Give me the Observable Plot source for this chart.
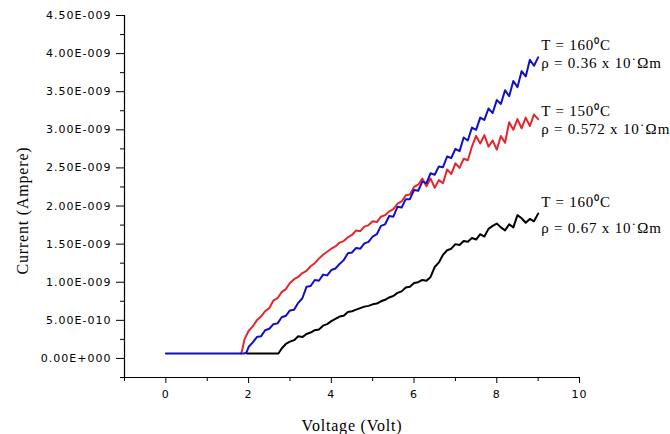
<!DOCTYPE html>
<html><head><meta charset="utf-8">
<script src="https://cdn.jsdelivr.net/npm/d3@7"></script>
<script src="https://cdn.jsdelivr.net/npm/@observablehq/plot@0.6"></script>
<style>
body{margin:0;background:#fff}
#chart svg g[aria-label="y-axis tick label"] text{letter-spacing:1px}
#chart svg g[aria-label="x-axis tick label"] text{letter-spacing:1px}
</style>
</head><body><div id="chart"></div>
<script>
// Voltage (Volt) and current (in units of 1E-009 Ampere)
const blueV = [0,1.9,1.95,2.0,2.1,2.2,2.3,2.4,2.5,2.6,2.7,2.8,2.9,3.0,3.1,3.2,3.3,3.4,3.5,3.6,3.7,3.8,3.9,4.0,4.1,4.2,4.3,4.4,4.5,4.6,4.7,4.8,4.9,5.0,5.1,5.2,5.3,5.4,5.5,5.6,5.7,5.8,5.9,6.0,6.1,6.2,6.3,6.4,6.5,6.6,6.7,6.8,6.9,7.0,7.1,7.2,7.3,7.4,7.5,7.6,7.7,7.8,7.9,8.0,8.1,8.2,8.3,8.4,8.5,8.6,8.7,8.8,8.9,9.0];
const blueI = [0.065,0.065,0.08,0.15,0.21,0.28,0.29,0.37,0.39,0.45,0.46,0.54,0.56,0.63,0.64,0.73,0.79,0.94,0.95,1.03,1.02,1.10,1.09,1.16,1.18,1.24,1.29,1.38,1.39,1.45,1.44,1.51,1.53,1.60,1.63,1.74,1.76,1.87,1.86,1.99,1.98,2.09,2.09,2.21,2.20,2.32,2.30,2.43,2.41,2.52,2.51,2.65,2.63,2.75,2.72,2.90,2.86,3.03,3.00,3.16,3.13,3.28,3.22,3.39,3.34,3.52,3.44,3.64,3.56,3.77,3.70,3.92,3.84,3.95];
const redV = [1.82,1.85,1.9,2.0,2.1,2.2,2.3,2.4,2.5,2.6,2.7,2.8,2.9,3.0,3.1,3.2,3.3,3.4,3.5,3.6,3.7,3.8,3.9,4.0,4.1,4.2,4.3,4.4,4.5,4.6,4.7,4.8,4.9,5.0,5.1,5.2,5.3,5.4,5.5,5.6,5.7,5.8,5.9,6.0,6.1,6.2,6.3,6.4,6.5,6.6,6.7,6.8,6.9,7.0,7.1,7.2,7.3,7.4,7.5,7.6,7.7,7.8,7.9,8.0,8.1,8.2,8.3,8.4,8.5,8.6,8.7,8.8,8.9,9.0];
const redI = [0.065,0.12,0.25,0.36,0.42,0.50,0.55,0.62,0.66,0.76,0.79,0.87,0.91,0.99,1.04,1.07,1.12,1.15,1.21,1.25,1.31,1.36,1.40,1.44,1.47,1.52,1.54,1.59,1.62,1.68,1.67,1.73,1.75,1.80,1.79,1.86,1.88,1.93,1.96,2.03,2.06,2.14,2.15,2.25,2.28,2.36,2.26,2.36,2.24,2.34,2.30,2.48,2.42,2.56,2.50,2.62,2.60,2.78,2.92,2.82,2.93,2.78,2.86,2.74,2.92,2.83,3.10,3.00,3.14,3.02,3.16,3.05,3.20,3.14];
const blackV = [1.96,2.72,2.8,2.9,3.0,3.1,3.2,3.3,3.4,3.5,3.6,3.7,3.8,3.9,4.0,4.1,4.2,4.3,4.4,4.5,4.6,4.7,4.8,4.9,5.0,5.1,5.2,5.3,5.4,5.5,5.6,5.7,5.8,5.9,6.0,6.1,6.2,6.3,6.4,6.5,6.6,6.7,6.8,6.9,7.0,7.1,7.2,7.3,7.4,7.5,7.6,7.7,7.8,7.9,8.0,8.1,8.2,8.3,8.4,8.5,8.6,8.7,8.8,8.9,9.0];
const blackI = [0.065,0.065,0.13,0.19,0.22,0.24,0.29,0.28,0.32,0.34,0.37,0.38,0.43,0.45,0.49,0.52,0.55,0.56,0.61,0.62,0.64,0.66,0.68,0.69,0.71,0.72,0.75,0.77,0.80,0.82,0.86,0.88,0.93,0.94,0.99,1.00,1.03,1.02,1.07,1.20,1.26,1.36,1.42,1.44,1.50,1.49,1.54,1.53,1.58,1.56,1.63,1.60,1.70,1.74,1.77,1.72,1.68,1.76,1.72,1.88,1.84,1.78,1.83,1.80,1.90];

const labelT = ["T = 160\u2070C", "T = 150\u2070C", "T = 160\u2070C"];
const labelRho = ["\u03C1 = 0.36 x 10\u02D9\u2126m", "\u03C1 = 0.572 x 10\u02D9\u2126m", "\u03C1 = 0.67 x 10\u02D9\u2126m"];
const xMajorTicks = [0,2,4,6,8,10];
const xMinorTicks = [-1,1,3,5,7,9];
const yMajorTicks = [0,0.5,1,1.5,2,2.5,3,3.5,4,4.5];
const yMinorTicks = [-0.25,0.25,0.75,1.25,1.75,2.25,2.75,3.25,3.75,4.25];

function sci(v) {
  const a = v * 1e-9;
  if (Math.abs(a) < 1e-20) return "0.00E+000";
  const e = Math.floor(Math.log10(Math.abs(a)) + 1e-9);
  const m = a / Math.pow(10, e);
  return m.toFixed(2) + "E" + (e < 0 ? "-" : "+") + String(Math.abs(e)).padStart(3, "0");
}

const mk = (V, I) => V.map((v, i) => ({V: v, I: I[i]}));
const series = [
  {data: mk(blackV, blackI), color: "#000000", dyT: -11, dyR: 15},
  {data: mk(redV, redI), color: "#e8262a", dyT: -8, dyR: 10},
  {data: mk(blueV, blueI), color: "#1010c8", dyT: -12, dyR: 6}
];
const labelOrder = [2, 1, 0]; // label index for black, red, blue
const serif = "Liberation Serif, Times New Roman, serif";

const marks = [
  Plot.ruleX([-1], {stroke: "#000", strokeWidth: 1.2}),
  Plot.ruleY([-0.25], {stroke: "#000", strokeWidth: 1.2}),
  Plot.axisX({ticks: xMajorTicks, tickSize: 6, tickPadding: 7, tickFormat: d => String(d), label: null, fontSize: 11}),
  Plot.axisX({ticks: xMinorTicks, tickSize: 4, tickFormat: () => "", label: null}),
  Plot.axisY({ticks: yMajorTicks, tickSize: 8, tickPadding: 5, tickFormat: sci, label: null, fontSize: 11}),
  Plot.axisY({ticks: yMinorTicks, tickSize: 4, tickFormat: () => "", label: null}),
  Plot.text(["Voltage (Volt)"], {frameAnchor: "bottom", dy: 48, textAnchor: "middle", lineAnchor: "middle", fontFamily: serif, fontSize: 16, style: "letter-spacing:1px"}),
  Plot.text(["Current (Ampere)"], {frameAnchor: "left", dx: -102, dy: 14, rotate: -90, textAnchor: "middle", lineAnchor: "middle", fontFamily: serif, fontSize: 16})
];
series.forEach((s, k) => {
  marks.push(Plot.line(s.data, {x: "V", y: "I", stroke: s.color, strokeWidth: 2}));
});
series.forEach((s, k) => {
  const last = s.data[s.data.length - 1];
  const li = labelOrder[k];
  marks.push(Plot.text([last], {x: "V", y: "I", text: () => labelT[li], dx: 3, dy: s.dyT, textAnchor: "start", fontFamily: serif, fontSize: 15}));
  marks.push(Plot.text([last], {x: "V", y: "I", text: () => labelRho[li], dx: 3, dy: s.dyR, textAnchor: "start", fontFamily: serif, fontSize: 15}));
});

const chart = Plot.plot({
  width: 670, height: 434,
  marginLeft: 124, marginRight: 91, marginTop: 15, marginBottom: 57,
  style: {fontFamily: "DejaVu Sans, sans-serif", fontSize: "11px", background: "#fff", color: "#000"},
  x: {domain: [-1, 10]},
  y: {domain: [-0.25, 4.5]},
  marks
});
document.getElementById("chart").appendChild(chart);
// letter spacing for the serif titles and curve labels, as in the reference
d3.select(chart).selectAll("g[aria-label='text'] text").style("letter-spacing", "0.8px");
</script>
</body></html>
